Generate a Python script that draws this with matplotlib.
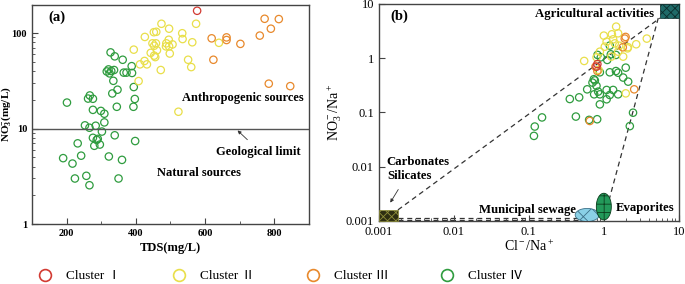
import numpy as np
import matplotlib
matplotlib.use('Agg')
import matplotlib.pyplot as plt
from matplotlib.lines import Line2D
from matplotlib.patches import Rectangle
from matplotlib.ticker import MultipleLocator, NullLocator, LogLocator, NullFormatter

plt.rcParams['font.family'] = ['Liberation Serif', 'Noto Sans CJK SC']
plt.rcParams['mathtext.fontset'] = 'custom'
plt.rcParams['mathtext.rm'] = 'Liberation Serif'
plt.rcParams['mathtext.it'] = 'Liberation Serif:italic'
plt.rcParams['mathtext.bf'] = 'Liberation Serif:bold'
plt.rcParams['hatch.linewidth'] = 0.6

# ---- panel (a): TDS vs NO3- ----
tds_c1 = [577]
no3_c1 = [171]
tds_c2 = [474, 496, 574, 426, 452, 459, 534, 535, 563, 448, 458, 453, 488, 495, 496, 506,
          487, 498, 461, 443, 394, 456, 453, 425, 432, 412, 472, 551, 560, 408, 523, 640]
no3_c2 = [125, 111, 125, 91, 102, 103, 99.5, 86.5, 80, 78, 78, 73.6, 78, 85, 72.5, 76,
          72.5, 61, 66, 62, 67, 56, 58, 51, 47, 47, 41, 52.5, 44, 31.4, 15, 79]
tds_c3 = [772, 813, 790, 758, 619, 662, 662, 702, 624, 784, 846]
no3_c3 = [141, 140, 111, 94, 88, 90, 84.5, 77, 52.5, 29.5, 27.8]
tds_c4 = [327, 339, 362, 388, 321, 316, 329, 337, 324, 365, 373, 389, 335, 394, 332, 347,
          397, 201, 267, 262, 276, 276, 299, 309, 345, 393, 309, 253, 284, 266, 302, 339,
          276, 290, 287, 280, 296, 232, 398, 242, 190, 322, 360, 217, 257, 224, 350, 266]
no3_c4 = [62.7, 57, 52.5, 45, 41.6, 39.6, 40, 41, 37.8, 38.5, 38.5, 38.2, 31.6, 27.2, 23.3, 25.5,
          20.4, 18.7, 22.2, 20.6, 20.5, 15.7, 15.3, 14.3, 16.9, 16.9, 11.6, 10.8, 10.7, 10.2, 9.3, 8.5,
          8.0, 7.8, 7.6, 6.6, 6.8, 7.0, 7.4, 5.2, 4.9, 5.1, 4.7, 4.3, 3.2, 3.0, 3.0, 2.55]
geo_limit = 10

# ---- panel (b): Cl-/Na+ vs NO3-/Na+ ----
cl_c1 = [0.82, 0.80]
rn_c1 = [0.78, 0.70]
cl_c2 = [1.46, 1.0, 1.28, 1.55, 1.33, 1.09, 2.70, 3.74, 2.07, 1.55, 0.885, 0.80, 1.26, 0.547,
         1.96, 1.81, 1.03, 1.40, 0.85, 2.1, 1.6]
rn_c2 = [3.82, 2.61, 2.76, 2.88, 2.23, 2.02, 1.81, 2.30, 1.52, 1.32, 1.32, 1.04, 1.07, 0.89,
         0.225, 1.07, 1.63, 1.88, 0.61, 1.6, 1.7]
cl_c3 = [1.95, 1.79, 0.774, 0.82, 2.54, 0.65, 1.9]
rn_c3 = [2.47, 1.59, 0.70, 0.58, 0.267, 0.0697, 2.3]
cl_c4 = [1.20, 1.24, 0.824, 0.912, 1.45, 1.11, 0.885, 1.20, 1.45, 1.55, 1.96, 1.81, 2.11, 0.736,
         0.759, 0.706, 0.798, 0.600, 1.09, 1.33, 0.840, 0.743, 0.885, 1.20, 1.55, 0.469, 0.352,
         1.09, 0.885, 2.45, 0.15, 0.424, 0.637, 0.815, 2.22, 0.12, 0.117]
rn_c4 = [1.71, 1.18, 1.15, 1.04, 1.15, 0.93, 0.55, 0.55, 0.58, 0.54, 0.67, 0.44, 0.37, 0.41,
         0.39, 0.355, 0.31, 0.267, 0.26, 0.26, 0.242, 0.216, 0.216, 0.21, 0.216, 0.19, 0.177,
         0.175, 0.141, 0.099, 0.081, 0.084, 0.073, 0.075, 0.056, 0.055, 0.037]

# end-member regions (x0, x1, y0, y1) and ellipses (centre x, centre y, half-widths in decades)
agri_box = (5.6, 10, 5.5, 10)
carb_box = (0.001, 0.0018, 0.001, 0.0016)
sewage_ell = (0.6, 0.00129, 0.16, 0.12)
evap_ell = (1.0, 0.00184, 0.1, 0.246)

labels = ['Cluster \u2160', 'Cluster \u2161', 'Cluster \u2162', 'Cluster \u2163']
colors = ['#d23a32', '#e9df4a', '#e8892c', '#2f9c3f']

spine_c = '#444444'
fig = plt.figure(figsize=(6.85, 2.84), dpi=100)
ax1 = fig.add_axes([0.0467, 0.211, 0.4043, 0.771])
ax2 = fig.add_axes([0.553, 0.222, 0.438, 0.764])

sty = dict(s=28, facecolors='none', linewidths=0.9)

def style_axes(ax):
    for side in ['top', 'right', 'left', 'bottom']:
        ax.spines[side].set_color(spine_c)
        ax.spines[side].set_linewidth(1.0)
    ax.tick_params(which='both', direction='in', top=False, right=False, color=spine_c)
    ax.tick_params(which='major', length=4, width=0.8)
    ax.tick_params(which='minor', length=2.2, width=0.6)

# panel (a)
ax1.scatter(tds_c4, no3_c4, edgecolors=colors[3], **sty)
ax1.scatter(tds_c2, no3_c2, edgecolors=colors[1], **sty)
ax1.scatter(tds_c3, no3_c3, edgecolors=colors[2], **sty)
ax1.scatter(tds_c1, no3_c1, edgecolors=colors[0], **sty)
ax1.axhline(geo_limit, color='#555555', lw=1.0)
ax1.set_yscale('log')
ax1.set_xlim(100, 900)
ax1.set_ylim(1, 196)
ax1.set_xticks([200, 400, 600, 800])
ax1.set_xticklabels(['200', '400', '600', '800'], fontsize=7.5, fontweight='bold')
ax1.xaxis.set_minor_locator(MultipleLocator(100))
ax1.set_yticks([1, 10, 100])
ax1.set_yticklabels(['1', '10', '100'], fontsize=7.5, fontweight='bold')
ax1.yaxis.set_minor_locator(LogLocator(base=10, subs=np.arange(2, 10)))
ax1.yaxis.set_minor_formatter(NullFormatter())
style_axes(ax1)
ax1.set_xlabel('TDS(mg/L)', fontsize=9, fontweight='bold', labelpad=3)
ax1.set_ylabel(r'NO$_\mathbf{3}^\mathbf{-}$(mg/L)', fontsize=8, fontweight='bold')
ax1.yaxis.set_label_coords(-0.07, 0.5)
ax1.text(0.06, 0.945, '(a)', transform=ax1.transAxes, fontsize=10.5, fontweight='bold',
         va='center', ha='left')
ax1.text(710, 21, 'Anthropogenic sources', fontsize=9, fontweight='bold', ha='center', va='center')
ax1.text(755, 5.7, 'Geological limit', fontsize=9, fontweight='bold', ha='center', va='center')
ax1.text(582, 3.4, 'Natural sources', fontsize=9, fontweight='bold', ha='center', va='center')
ax1.annotate('', xy=(688, 10), xytext=(728, 7.3),
             arrowprops=dict(arrowstyle='-|>', color='#333333', lw=0.6, mutation_scale=5))

# panel (b)
def ellipse(ax, cx, cy, rx, ry, fc, ec, hatch):
    t = np.linspace(0, 2 * np.pi, 100)
    xs = 10 ** (np.log10(cx) + rx * np.cos(t))
    ys = 10 ** (np.log10(cy) + ry * np.sin(t))
    ax.fill(xs, ys, facecolor=fc, edgecolor=ec, hatch=hatch, lw=0.6, zorder=3)

dash = dict(color='#333333', lw=0.9, ls=(0, (4, 3)), zorder=1)
ax2.plot([carb_box[1], agri_box[0]], [carb_box[3], agri_box[2]], **dash)
ax2.plot([agri_box[0] * 0.95, 1.18], [agri_box[2], 0.0025], **dash)
ax2.plot([carb_box[1], 0.45], [0.00113, 0.00113], **dash)
ax2.plot([carb_box[1], 0.5], [0.00104, 0.00104], **dash)

ax2.scatter(cl_c4, rn_c4, edgecolors=colors[3], zorder=2, **sty)
ax2.scatter(cl_c2, rn_c2, edgecolors=colors[1], zorder=2, **sty)
ax2.scatter(cl_c3, rn_c3, edgecolors=colors[2], zorder=2, **sty)
ax2.scatter(cl_c1, rn_c1, edgecolors=colors[0], zorder=2, **sty)

ax2.add_patch(Rectangle((agri_box[0], agri_box[2]), agri_box[1] - agri_box[0],
                        agri_box[3] - agri_box[2], facecolor='#1f6a68', edgecolor='#0b2d2c',
                        hatch='xxxx', lw=0.5, zorder=3, clip_on=False))
ax2.add_patch(Rectangle((carb_box[0], carb_box[2]), carb_box[1] - carb_box[0],
                        carb_box[3] - carb_box[2], facecolor='#2e2e12', edgecolor='#8f8f3a',
                        hatch='xxxx', lw=0.5, zorder=3, clip_on=False))
ellipse(ax2, *sewage_ell, fc='#8ad0e6', ec='#3d7088', hatch='xx')
ellipse(ax2, *evap_ell, fc='#23995a', ec='#0c3f1e', hatch='++')

ax2.set_xscale('log')
ax2.set_yscale('log')
ax2.set_xlim(0.001, 10)
ax2.set_ylim(0.001, 10)
dec = [0.001, 0.01, 0.1, 1, 10]
dec_lab = ['0.001', '0.01', '0.1', '1', '10']
ax2.set_xticks(dec)
ax2.set_xticklabels(dec_lab, fontsize=9)
ax2.set_yticks(dec)
ax2.set_yticklabels(dec_lab, fontsize=9)
ax2.xaxis.set_minor_locator(LogLocator(base=10, subs=np.arange(2, 10)))
ax2.xaxis.set_minor_formatter(NullFormatter())
ax2.yaxis.set_minor_locator(NullLocator())
style_axes(ax2)
ax2.set_xlabel(r'Cl$^-$/Na$^+$', fontsize=10, labelpad=1)
ax2.set_ylabel(r'NO$_3^-$/Na$^+$', fontsize=10, labelpad=1)
ax2.text(0.04, 0.945, '(b)', transform=ax2.transAxes, fontsize=10.5, fontweight='bold',
         va='center', ha='left')
ax2.text(4.6, 6.5, 'Agricultural activities', fontsize=9.2, fontweight='bold', ha='right', va='center')
ax2.text(0.00128, 0.0091, 'Carbonates\nSilicates', fontsize=9.2, fontweight='bold', ha='left',
         va='center', linespacing=1.2)
ax2.annotate('', xy=(0.00136, 0.00197), xytext=(0.0019, 0.0042),
             arrowprops=dict(arrowstyle='-|>', color='#333333', lw=0.6, mutation_scale=5))
ax2.text(0.43, 0.0016, 'Municipal sewage', fontsize=9.2, fontweight='bold', ha='right', va='center')
ax2.text(1.45, 0.00174, 'Evaporites', fontsize=9.2, fontweight='bold', ha='left', va='center')

# legend row
handles = [Line2D([], [], ls='none', marker='o', markersize=8.5, markerfacecolor='none',
                  markeredgecolor=c, markeredgewidth=1.2) for c in colors]
fig.legend(handles, labels, loc='center', bbox_to_anchor=(0.405, 0.028), ncol=4,
           frameon=False, columnspacing=3.4, handletextpad=0.6,
           prop={'family': ['Liberation Serif', 'Noto Sans CJK SC'], 'size': 9.5})

fig.savefig('out.png', dpi=100)
